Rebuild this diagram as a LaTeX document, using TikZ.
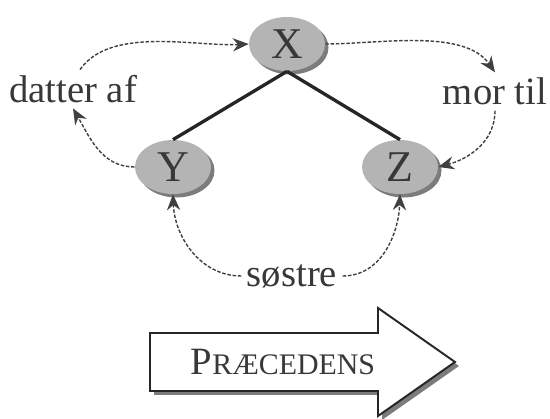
\documentclass[tikz,border=0pt]{standalone}
\usepackage{fontspec}
\setmainfont{Liberation Serif}
\usetikzlibrary{arrows.meta,shapes.geometric,shadows}
\definecolor{ellfill}{HTML}{B4B4B4}
\definecolor{ellshadow}{HTML}{7C7C7C}
\definecolor{txt}{HTML}{383838}
\tikzset{
  person/.style={ellipse, fill=ellfill, minimum width=1.52cm, minimum height=1.08cm, inner sep=0pt,
    text=txt, font=\fontsize{25}{29}\selectfont,
    copy shadow={shadow xshift=2pt, shadow yshift=-2pt, fill=ellshadow, draw=none}},
  lbl/.style={text=txt, font=\fontsize{22}{26}\selectfont, inner sep=3pt},
  rel/.style={dash pattern=on 2pt off 1pt, line width=0.8pt, draw=black!75, -{Stealth[length=9pt,width=7.5pt]}},
  tree/.style={line width=1.9pt, draw=black!85}
}
\begin{document}
\begin{tikzpicture}
\useasboundingbox (0,0) rectangle (11,8.38);
\node[person] (X) at (5.74,7.50) {X};
\node[person] (Y) at (3.46,5.04) {Y};
\node[person] (Z) at (8.00,5.04) {Z};
\node[lbl] (datter) at (1.46,6.60) {datter af};
\node[lbl] (mor) at (9.90,6.55) {mor til};
\node[lbl] (sos) at (5.84,2.86) {søstre};
\draw[tree] (X.south) -- (Y.north);
\draw[tree] (X.south) -- (Z.north);
\draw[rel] ([xshift=4pt]datter.north) to[out=55,in=183,looseness=0.8] (X.west);
\draw[rel] (Y.west) to[out=180,in=-60] (datter.south);
\draw[rel] (X.east) to[out=0,in=125,looseness=0.8] (mor.north);
\draw[rel] (mor.south) to[out=-90,in=15] (Z.east);
\draw[rel] (sos.west) to[out=180,in=-88] (Y.south);
\draw[rel] (sos.east) to[out=0,in=-92] (Z.south);
% big arrow
\fill[ellshadow, shift={(0.08,-0.08)}] (3.00,1.72) -- (7.56,1.72) -- (7.56,2.22) -- (9.10,1.14) -- (7.56,0.06) -- (7.56,0.56) -- (3.00,0.56) -- cycle;
\draw[fill=white, line width=1.1pt, draw=black!85] (3.00,1.72) -- (7.56,1.72) -- (7.56,2.22) -- (9.10,1.14) -- (7.56,0.06) -- (7.56,0.56) -- (3.00,0.56) -- cycle;
\node[text=txt] (prec) at (5.66,1.14) {{\fontsize{22}{26}\selectfont P}{\fontsize{17}{20}\selectfont RÆCEDENS}};
\end{tikzpicture}
\end{document}
